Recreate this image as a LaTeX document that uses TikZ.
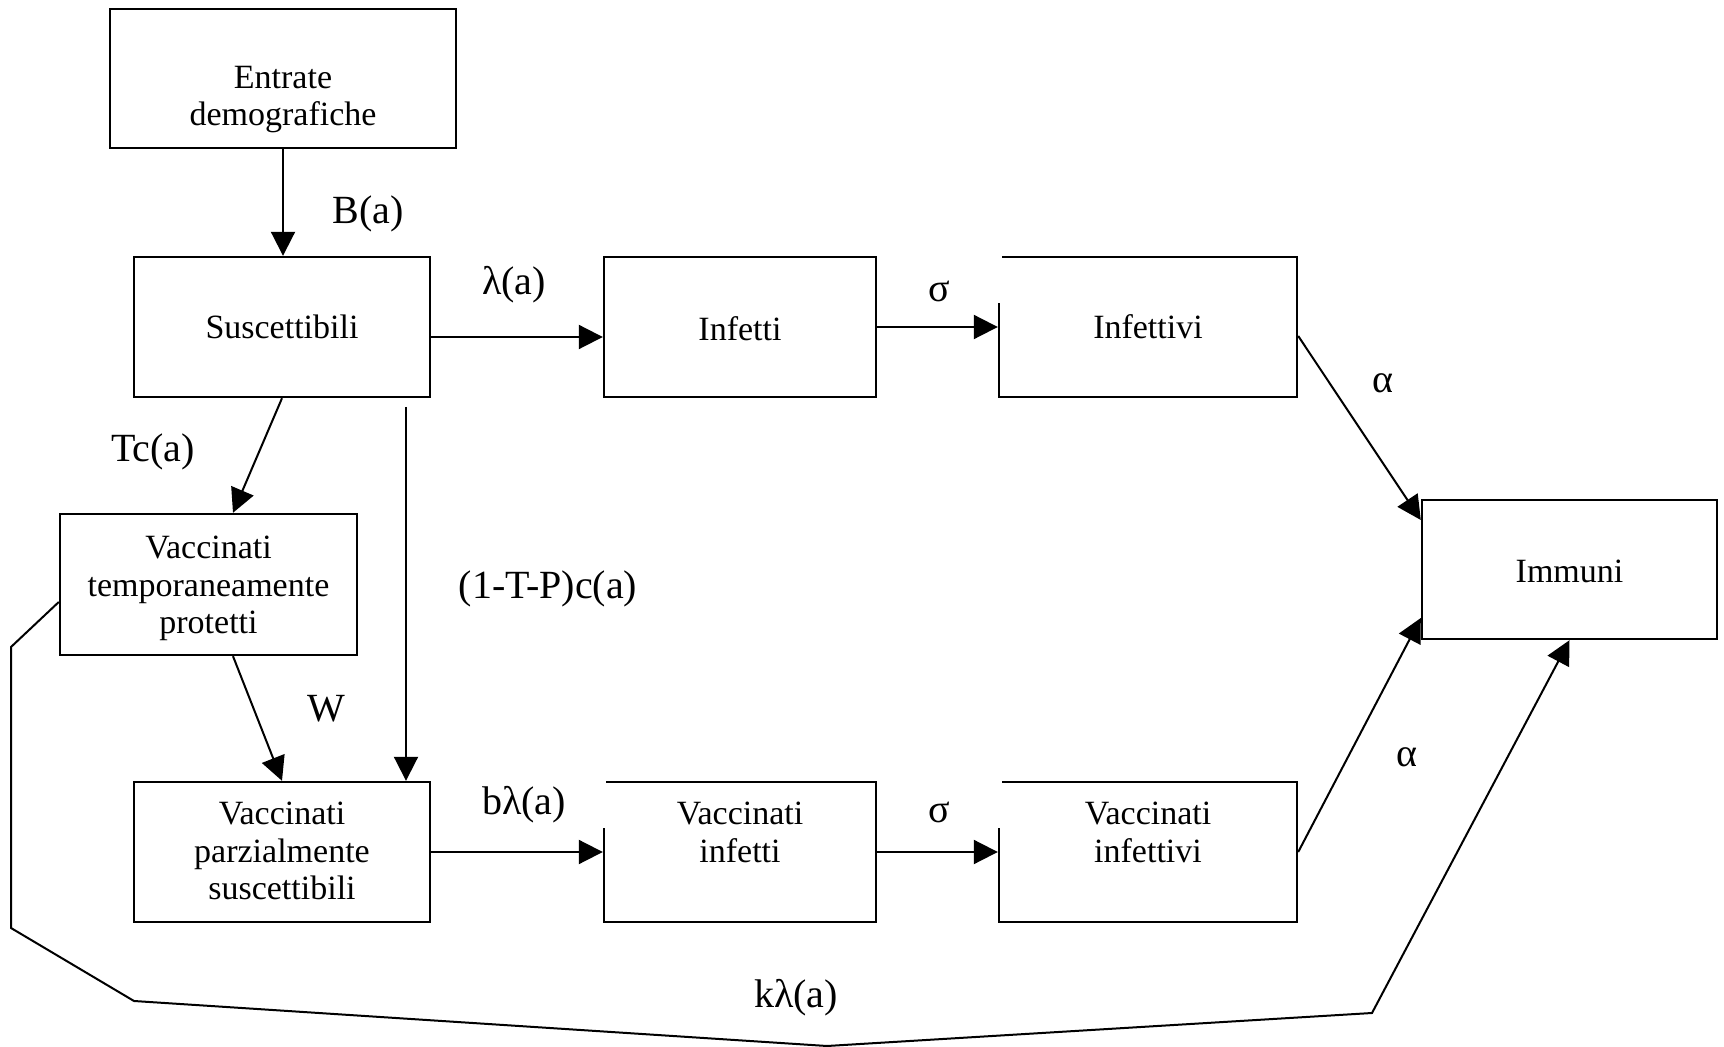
\documentclass[tikz,border=0pt]{standalone}
\usepackage{fontspec}
\setmainfont{Liberation Serif}
\usepackage{tikz}
\usetikzlibrary{arrows.meta,fit}

\begin{document}
\begin{tikzpicture}[x=0.5pt,y=0.5pt,yscale=-1,xscale=1,
	blk/.style={draw,line width=1.2pt,inner sep=0pt,rectangle},
	txt/.style={align=center,inner sep=0pt,font=\fontsize{17}{18.75}\selectfont},
	lbl/.style={inner sep=0pt,font=\fontsize{20}{24}\selectfont},
	arr/.style={line width=1pt,-{Triangle[length=12pt,width=12pt]}}]
		\useasboundingbox (0,0) rectangle (1724,1047);
		
		%Shape: Rectangle [id:entr]
		\node[blk,fit={(110,9) (456,148)}] (entr) {};
		%Shape: Rectangle [id:susc]
		\node[blk,fit={(134,257) (430,397)}] (susc) {};
		%Shape: Rectangle [id:inf]
		\node[blk,fit={(604,257) (876,397)}] (inf) {};
		%Shape: Rectangle [id:infv]
		\node[blk,fit={(999,257) (1297,397)}] (infv) {};
		%Shape: Rectangle [id:imm]
		\node[blk,fit={(1422,500) (1717,639)}] (imm) {};
		%Shape: Rectangle [id:vtp]
		\node[blk,fit={(60,514) (357,655)}] (vtp) {};
		%Shape: Rectangle [id:vps]
		\node[blk,fit={(134,782) (430,922)}] (vps) {};
		%Shape: Rectangle [id:vinf]
		\node[blk,fit={(604,782) (876,922)}] (vinf) {};
		%Shape: Rectangle [id:vinfv]
		\node[blk,fit={(999,782) (1297,922)}] (vinfv) {};
		%covers at the corners
		\fill[white] (994,250) rectangle (1002,303);
		\fill[white] (599,775) rectangle (606,828);
		\fill[white] (994,775) rectangle (1002,828);
		
		% Text Node
		\node[txt] (entr-t) at (283,99.5) {Entrate\\demografiche};
		% Text Node
		\node[txt] (susc-t) at (282,327) {Suscettibili};
		% Text Node
		\node[txt] (inf-t) at (740,329) {Infetti};
		% Text Node
		\node[txt] (infv-t) at (1148,327) {Infettivi};
		% Text Node
		\node[txt] (imm-t) at (1569.5,571.5) {Immuni};
		% Text Node
		\node[txt] (vtp-t) at (208.5,588.5) {Vaccinati\\temporaneamente\\protetti};
		% Text Node
		\node[txt] (vps-t) at (282,851) {Vaccinati\\parzialmente\\suscettibili};
		% Text Node
		\node[txt] (vinf-t) at (740,832.5) {Vaccinati\\infetti};
		% Text Node
		\node[txt] (vinfv-t) at (1148,832.5) {Vaccinati\\infettivi};
		
		%Straight Lines
		\draw[arr] (entr.south) -- (entr.south |- susc.north);
		\draw[arr] (susc.east |- 0,337) -- (inf.west |- 0,337);
		\draw[arr] (inf.east) -- (infv.west);
		\draw[arr] (infv.east |- 0,336) -- (imm.west |- 0,520);
		\draw[arr] (susc.south) -- (vtp.north -| 233,0);
		\coordinate (vsplit) at (406,407);
		\draw[arr] (vsplit) -- (vps.north -| vsplit);
		\draw[arr] (vtp.south -| 233,0) -- (vps.north);
		\draw[arr] (vps.east) -- (vinf.west);
		\draw[arr] (vinf.east) -- (vinfv.west);
		\draw[arr] (vinfv.east) -- (imm.west |- 0,618);
		%Polyline
		\draw[arr] (vtp.west |- 0,602) -- (11,647) -- (11,928) -- (134,1001) -- (827,1046) -- (1372,1013) -- (imm.south);
		
		% Text Node
		\node[lbl] (lb-B) at (368,214) {B(a)};
		% Text Node
		\node[lbl] (lb-lam) at (514,285) {λ(a)};
		% Text Node
		\node[lbl] (lb-sig1) at (939,291) {σ};
		% Text Node
		\node[lbl] (lb-alf1) at (1383,383) {α};
		% Text Node
		\node[lbl] (lb-Tc) at (153,452) {Tc(a)};
		% Text Node
		\node[lbl] (lb-TP) at (548,589) {(1-T-P)c(a)};
		% Text Node
		\node[lbl] (lb-W) at (326,709) {W};
		% Text Node
		\node[lbl] (lb-blam) at (524,805) {bλ(a)};
		% Text Node
		\node[lbl] (lb-sig2) at (939,812) {σ};
		% Text Node
		\node[lbl] (lb-alf2) at (1407,757) {α};
		% Text Node
		\node[lbl] (lb-klam) at (796,998) {kλ(a)};
\end{tikzpicture}
\end{document}
